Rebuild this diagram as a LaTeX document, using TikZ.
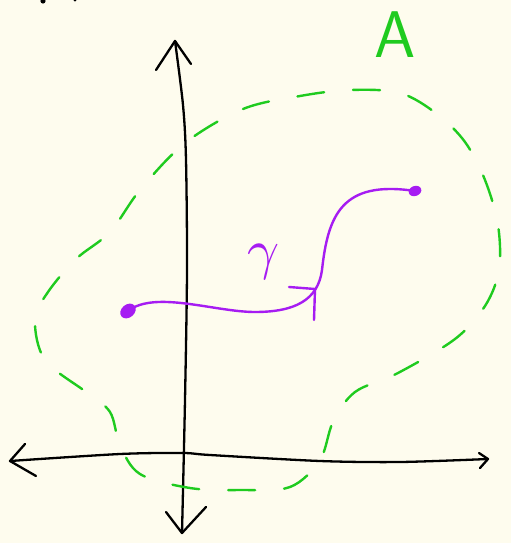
\documentclass[tikz,border=0pt]{standalone}
\usepackage{tikz}
\usetikzlibrary{calc,positioning,shapes.geometric}
\definecolor{hpaper}{HTML}{FEFCEE}
\definecolor{hgreen}{HTML}{1FCB1F}
\definecolor{hpurple}{HTML}{A61CF2}
\tikzset{
  haxis/.style={black, line width=2.3pt, line cap=round, line join=round},
  hblob/.style={hgreen, line width=2.4pt, line cap=round,
                dash pattern=on 27pt off 29pt},
  hcurve/.style={hpurple, line width=2.4pt, line cap=round, line join=round},
  hdot/.style={ellipse, fill=hpurple, inner sep=0pt},
  hlbl/.style={inner sep=0pt},
}

\begin{document}
\begin{tikzpicture}[x=1pt,y=-1pt]

  % paper
  \fill[hpaper] (0,0) rectangle (511,543);
  \useasboundingbox (0,0) rectangle (511,543);
  \fill (43,1) circle (2.6pt);
  \fill (75,0) circle (1.6pt);

  % --- eixos ---
  \coordinate (ytop) at (175,41);
  \coordinate (ybot) at (182,533);
  \coordinate (xlft) at (10,461);
  \coordinate (xrgt) at (488,459);
  \draw[haxis] plot[smooth, tension=0.5] coordinates
    {(ytop) (183,105) (186,160) (187,270) (185,400) (ybot)};
  \draw[haxis] (156,70) -- (ytop) -- (191,64);
  \draw[haxis] (166,512) -- (ybot) -- (206,507);
  \draw[haxis] plot[smooth, tension=0.5] coordinates
    {(xlft) (120,454) (183,453) (210,455) (320,461) (400,462) (xrgt)};
  \draw[haxis] (25,444) -- (xlft) -- (36,476);
  \draw[haxis] (479,453) -- (xrgt) -- (480,468);

  % --- conjunto A ---
  \draw[hblob] plot[smooth cycle, tension=0.55] coordinates
    {(185,143) (243,109) (300,96) (350,90) (400,93) (437,114) (465,142)
     (485,180) (498,225) (499,270) (485,306) (455,339) (398,373) (355,392)
     (333,422) (320,460) (290,487) (240,490) (190,488) (140,474) (120,445)
     (110,412) (86,392) (45,360) (35,320) (48,292) (76,259) (110,232)
     (140,190)};
  \node[hlbl, hgreen, font=\sffamily\fontsize{66}{66}\selectfont,
        anchor=base] (aname) at (395,58) {A};

  % --- caminho gamma ---
  \node[hdot, minimum width=17pt, minimum height=13pt, rotate=40]
    (gstart) at (128,311) {};
  \node[hdot, minimum width=13pt, minimum height=10pt, rotate=20]
    (gend) at (415,191) {};
  \draw[hcurve] (gstart.center) .. controls (155,290) and (215,312) .. (255,312)
                .. controls (295,312) and (318,300) .. (322,270)
                .. controls (328,215) and (342,180) .. (gend.center);
  \coordinate (gtip) at (315,289);
  \draw[hcurve] (289,287) -- (gtip) -- (314,320);
  \node[hlbl, hpurple, scale=5.6, transform shape]
    (gname) at (264,262) {$\gamma$};

\end{tikzpicture}
\end{document}
